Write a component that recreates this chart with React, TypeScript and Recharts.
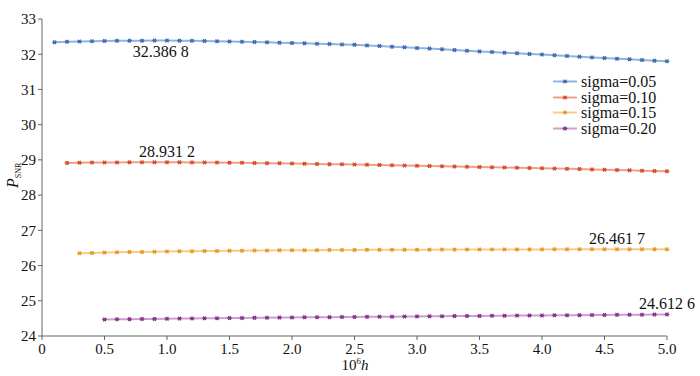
import React from "react";
import { LineChart, Line, XAxis, YAxis, ReferenceDot } from "recharts";

const hValues = [
  0.1, 0.2, 0.3, 0.4, 0.5, 0.6, 0.7, 0.8, 0.9, 1.0,
  1.1, 1.2, 1.3, 1.4, 1.5, 1.6, 1.7, 1.8, 1.9, 2.0,
  2.1, 2.2, 2.3, 2.4, 2.5, 2.6, 2.7, 2.8, 2.9, 3.0,
  3.1, 3.2, 3.3, 3.4, 3.5, 3.6, 3.7, 3.8, 3.9, 4.0,
  4.1, 4.2, 4.3, 4.4, 4.5, 4.6, 4.7, 4.8, 4.9, 5.0,
];

// sigma=0.05, from h=0.1
const sigma005 = [
  32.34, 32.352, 32.362, 32.37, 32.376, 32.381, 32.384, 32.386, 32.3868, 32.3868,
  32.385, 32.381, 32.376, 32.369, 32.361, 32.353, 32.345, 32.337, 32.328, 32.319,
  32.309, 32.299, 32.289, 32.278, 32.267, 32.25, 32.233, 32.215, 32.197, 32.178,
  32.159, 32.139, 32.12, 32.1, 32.08, 32.062, 32.044, 32.026, 32.008, 31.99,
  31.97, 31.95, 31.93, 31.91, 31.89, 31.872, 31.854, 31.836, 31.818, 31.8,
];
// sigma=0.10, from h=0.2
const sigma010 = [
  28.915, 28.92, 28.924, 28.927, 28.929, 28.93, 28.931, 28.9312, 28.9312,
  28.93, 28.929, 28.927, 28.924, 28.921, 28.917, 28.913, 28.908, 28.903, 28.897,
  28.891, 28.885, 28.879, 28.873, 28.867, 28.86, 28.853, 28.846, 28.839, 28.832,
  28.825, 28.818, 28.811, 28.804, 28.797, 28.79, 28.783, 28.776, 28.769, 28.762,
  28.754, 28.746, 28.738, 28.73, 28.722, 28.713, 28.704, 28.695, 28.686, 28.677,
];
// sigma=0.15, from h=0.3
const sigma015 = [
  26.35, 26.36, 26.368, 26.375, 26.382, 26.388, 26.394, 26.399,
  26.404, 26.408, 26.412, 26.416, 26.42, 26.423, 26.426, 26.429, 26.432, 26.434,
  26.436, 26.438, 26.44, 26.442, 26.444, 26.446, 26.447, 26.449, 26.45, 26.451,
  26.452, 26.453, 26.454, 26.455, 26.456, 26.457, 26.458, 26.458, 26.459, 26.459,
  26.46, 26.46, 26.461, 26.461, 26.4617, 26.4615, 26.461, 26.461, 26.46, 26.46,
];
// sigma=0.20, from h=0.5
const sigma020 = [
  24.47, 24.474, 24.478, 24.482, 24.486, 24.49,
  24.494, 24.498, 24.501, 24.505, 24.508, 24.512, 24.515, 24.519, 24.522, 24.525,
  24.529, 24.532, 24.535, 24.538, 24.541, 24.544, 24.547, 24.55, 24.553, 24.556,
  24.559, 24.562, 24.565, 24.568, 24.571, 24.573, 24.576, 24.579, 24.582, 24.584,
  24.587, 24.59, 24.592, 24.595, 24.598, 24.6, 24.603, 24.605, 24.608, 24.6126,
];

const seriesNames = ["sigma=0.05", "sigma=0.10", "sigma=0.15", "sigma=0.20"];
const xTicks = [0, 0.5, 1.0, 1.5, 2.0, 2.5, 3.0, 3.5, 4.0, 4.5, 5.0];
const yTicks = [24, 25, 26, 27, 28, 29, 30, 31, 32, 33];

// peak annotations: [h, value, label]
const notes: [number, number, string][] = [
  [0.95, 32.3868, "32.386 8"],
  [1.0, 28.9312, "28.931 2"],
  [4.6, 26.4617, "26.461 7"],
  [5.0, 24.6126, "24.612 6"],
];
const notePos = ["bottom", "top", "top", "top"];

const lineColors = ["#93b2dc", "#eea08a", "#f6cc8a", "#cc9fd0"];
const dotColors = ["#3f6fb5", "#d4502e", "#e89a2a", "#86358c"];
const keys = ["s1", "s2", "s3", "s4"];
const allSeries = [sigma005, sigma010, sigma015, sigma020];

const rows = hValues.map((h, i) => {
  const row: Record<string, number | null> = { h };
  allSeries.forEach((s, k) => {
    const offset = hValues.length - s.length;
    row[keys[k]] = i >= offset ? s[i - offset] : null;
  });
  return row;
});

const FONT = "'Liberation Serif', 'Times New Roman', serif";

const Star = (props: any) => {
  const { cx, cy, fill } = props;
  if (cx == null || cy == null) return null;
  const r = 2.4;
  return (
    <g stroke={fill} strokeWidth={1.1}>
      <line x1={cx - r} y1={cy} x2={cx + r} y2={cy} />
      <line x1={cx - r * 0.6} y1={cy - r * 0.8} x2={cx + r * 0.6} y2={cy + r * 0.8} />
      <line x1={cx - r * 0.6} y1={cy + r * 0.8} x2={cx + r * 0.6} y2={cy - r * 0.8} />
      <circle cx={cx} cy={cy} r={1} fill={fill} />
    </g>
  );
};

const LegendBox = () => (
  <div
    style={{
      position: "absolute",
      left: 552,
      top: 74,
      fontFamily: FONT,
      fontSize: 16,
      color: "#111",
      lineHeight: "15.5px",
    }}
  >
    {seriesNames.map((n, k) => (
      <div key={n} style={{ display: "flex", alignItems: "center", height: 15.5 }}>
        <svg width={26} height={15}>
          <line x1={1} y1={7.5} x2={25} y2={7.5} stroke={lineColors[k]} strokeWidth={2} />
          <Star cx={13} cy={7.5} fill={dotColors[k]} />
        </svg>
        <span style={{ marginLeft: 3 }}>{n}</span>
      </div>
    ))}
  </div>
);

export default function App() {
  return (
    <div style={{ position: "absolute", left: 0, top: 0, width: 700, height: 376, background: "#fff" }}>
      <LineChart width={700} height={376} data={rows} margin={{ top: 19, right: 33, left: 0, bottom: 0 }}>
        <XAxis
          dataKey="h"
          type="number"
          domain={[0, 5]}
          ticks={xTicks}
          tickFormatter={(v: number) => (v === 0 ? "0" : v.toFixed(1))}
          height={40}
          tick={{ fill: "#111", fontSize: 15, fontFamily: FONT }}
          axisLine={{ stroke: "#666" }}
          tickLine={{ stroke: "#666" }}
          tickSize={4}
          tickMargin={3}
          label={() => (
            <text x={355} y={370} textAnchor="middle" fontFamily={FONT} fontSize={15} fill="#111">
              10<tspan fontSize={9} dy={-6}>6</tspan>
              <tspan fontStyle="italic" dy={6}>h</tspan>
            </text>
          )}
        />
        <YAxis
          type="number"
          domain={[24, 33]}
          ticks={yTicks}
          width={42}
          tick={{ fill: "#111", fontSize: 15, fontFamily: FONT }}
          axisLine={{ stroke: "#666" }}
          tickLine={{ stroke: "#666" }}
          tickSize={4}
          tickMargin={2}
          label={() => (
            <text transform="translate(18,188) rotate(-90)" fontFamily={FONT} fontSize={16} fill="#111">
              <tspan fontStyle="italic">P</tspan>
              <tspan fontSize={8} dy={3}>SNR</tspan>
            </text>
          )}
        />
        {keys.map((k, i) => (
          <Line
            key={k}
            dataKey={k}
            name={seriesNames[i]}
            stroke={lineColors[i]}
            strokeWidth={2}
            dot={<Star fill={dotColors[i]} />}
            activeDot={false}
            isAnimationActive={false}
          />
        ))}
        {notes.map((n, i) => (
          <ReferenceDot
            key={n[2]}
            x={n[0]}
            y={n[1]}
            r={0}
            label={{ value: n[2], position: notePos[i], offset: 5, fill: "#111", fontSize: 16, fontFamily: FONT }}
          />
        ))}
      </LineChart>
      <LegendBox />
    </div>
  );
}
